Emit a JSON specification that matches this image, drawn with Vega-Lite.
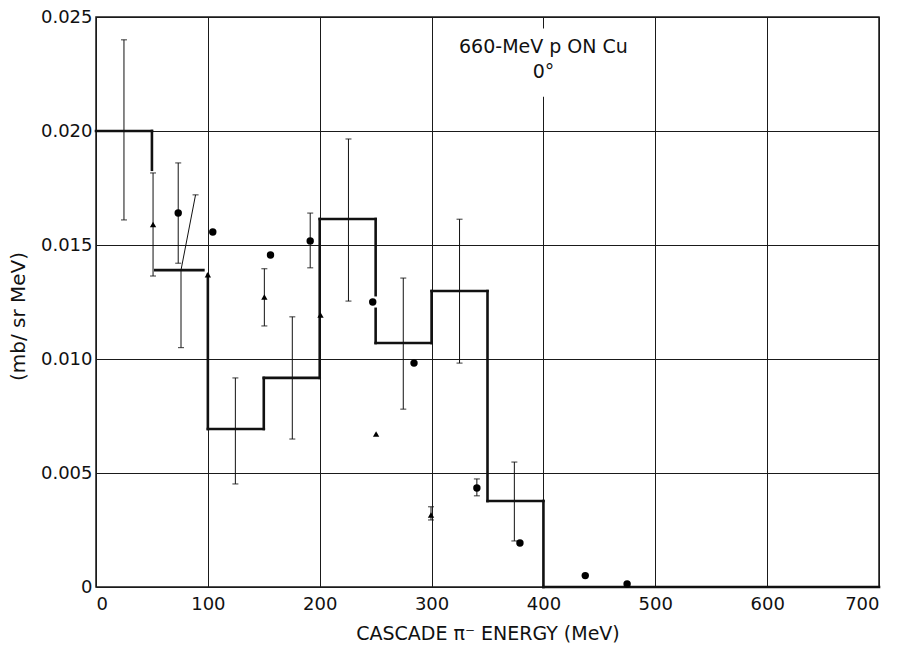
{
  "$schema": "https://vega.github.io/schema/vega-lite/v6.json",
  "width": 783,
  "height": 570,
  "autosize": {"type": "none"},
  "padding": {"left": 96, "top": 17, "right": 18, "bottom": 59},
  "background": "white",
  "config": {
    "view": {"stroke": "#1a1a1a", "strokeWidth": 1.5},
    "font": "DejaVu Sans",
    "axis": {
      "grid": true, "gridColor": "#1a1a1a", "gridWidth": 1, "gridOpacity": 1,
      "domain": false, "ticks": false,
      "labelColor": "#111", "titleColor": "#111",
      "labelFont": "DejaVu Sans", "titleFont": "DejaVu Sans",
      "titleFontWeight": "normal"
    }
  },
  "datasets": {
    "hist": [
      {"x": 0, "x2": 50, "y": 0.020, "y2": 0.020},
      {"x": 50, "x2": 50, "y": 0.020, "y2": 0.0183},
      {"x": 53, "x2": 96, "y": 0.0139, "y2": 0.0139},
      {"x": 100, "x2": 100, "y": 0.0137, "y2": 0.00693},
      {"x": 100, "x2": 150, "y": 0.00693, "y2": 0.00693},
      {"x": 150, "x2": 150, "y": 0.00693, "y2": 0.00917},
      {"x": 150, "x2": 200, "y": 0.00917, "y2": 0.00917},
      {"x": 200, "x2": 200, "y": 0.00917, "y2": 0.01614},
      {"x": 200, "x2": 250, "y": 0.01614, "y2": 0.01614},
      {"x": 250, "x2": 250, "y": 0.01614, "y2": 0.0128},
      {"x": 250, "x2": 250, "y": 0.0122, "y2": 0.0107},
      {"x": 250, "x2": 300, "y": 0.0107, "y2": 0.0107},
      {"x": 300, "x2": 300, "y": 0.0107, "y2": 0.01298},
      {"x": 300, "x2": 350, "y": 0.01298, "y2": 0.01298},
      {"x": 350, "x2": 350, "y": 0.01298, "y2": 0.00377},
      {"x": 350, "x2": 400, "y": 0.00377, "y2": 0.00377},
      {"x": 400, "x2": 400, "y": 0.00377, "y2": 0},
      {"x": 400, "x2": 700, "y": 0, "y2": 0}
    ],
    "bars": [
      {"x": 25, "x2": 25, "y": 0.0161, "y2": 0.0240},
      {"x": 51, "x2": 51, "y": 0.01364, "y2": 0.01816},
      {"x": 73.5, "x2": 73.5, "y": 0.0142, "y2": 0.0186},
      {"x": 76, "x2": 76, "y": 0.0105, "y2": 0.0139},
      {"x": 76, "x2": 89, "y": 0.0139, "y2": 0.0172},
      {"x": 124.6, "x2": 124.6, "y": 0.00452, "y2": 0.00917},
      {"x": 150.5, "x2": 150.5, "y": 0.01145, "y2": 0.01396},
      {"x": 175.5, "x2": 175.5, "y": 0.00649, "y2": 0.01185},
      {"x": 191.5, "x2": 191.5, "y": 0.0140, "y2": 0.0164},
      {"x": 225.7, "x2": 225.7, "y": 0.01254, "y2": 0.01965},
      {"x": 274.7, "x2": 274.7, "y": 0.0078, "y2": 0.01355},
      {"x": 299.5, "x2": 299.5, "y": 0.00294, "y2": 0.00352},
      {"x": 325, "x2": 325, "y": 0.00982, "y2": 0.01613},
      {"x": 340.5, "x2": 340.5, "y": 0.0040, "y2": 0.00474},
      {"x": 374, "x2": 374, "y": 0.00202, "y2": 0.00548}
    ],
    "caps": [
      {"x": 25, "y": 0.0161}, {"x": 25, "y": 0.0240},
      {"x": 51, "y": 0.01364}, {"x": 51, "y": 0.01816},
      {"x": 73.5, "y": 0.0142}, {"x": 73.5, "y": 0.0186},
      {"x": 76, "y": 0.0105}, {"x": 89, "y": 0.0172},
      {"x": 124.6, "y": 0.00452}, {"x": 124.6, "y": 0.00917},
      {"x": 150.5, "y": 0.01145}, {"x": 150.5, "y": 0.01396},
      {"x": 175.5, "y": 0.00649}, {"x": 175.5, "y": 0.01185},
      {"x": 191.5, "y": 0.0140}, {"x": 191.5, "y": 0.0164},
      {"x": 225.7, "y": 0.01254}, {"x": 225.7, "y": 0.01965},
      {"x": 274.7, "y": 0.0078}, {"x": 274.7, "y": 0.01355},
      {"x": 299.5, "y": 0.00294}, {"x": 299.5, "y": 0.00352},
      {"x": 325, "y": 0.00982}, {"x": 325, "y": 0.01613},
      {"x": 340.5, "y": 0.0040}, {"x": 340.5, "y": 0.00474},
      {"x": 374, "y": 0.00202}, {"x": 374, "y": 0.00548}
    ],
    "points": [
      {"x": 51, "y": 0.0159, "kind": "triangle"},
      {"x": 73.5, "y": 0.0164, "kind": "circle"},
      {"x": 100, "y": 0.0137, "kind": "triangle"},
      {"x": 104.4, "y": 0.01557, "kind": "circle"},
      {"x": 150.5, "y": 0.01272, "kind": "triangle"},
      {"x": 156, "y": 0.01456, "kind": "circle"},
      {"x": 191.5, "y": 0.01518, "kind": "circle"},
      {"x": 200.7, "y": 0.01193, "kind": "triangle"},
      {"x": 247.4, "y": 0.0125, "kind": "circle"},
      {"x": 250.4, "y": 0.00671, "kind": "triangle"},
      {"x": 284.3, "y": 0.00982, "kind": "circle"},
      {"x": 299.5, "y": 0.00316, "kind": "triangle"},
      {"x": 340.5, "y": 0.00434, "kind": "circle"},
      {"x": 379, "y": 0.00193, "kind": "circle"},
      {"x": 437.4, "y": 0.0005, "kind": "circle"},
      {"x": 474.8, "y": 0.00013, "kind": "circle"}
    ],
    "notes": [
      {"x": 400, "y": 0.02368, "text": "660-MeV p ON Cu"},
      {"x": 400, "y": 0.02259, "text": "0°"}
    ],
    "blank": [
      {"x": 315, "x2": 485, "y": 0.0215, "y2": 0.0245}
    ]
  },
  "encoding": {
    "x": {
      "field": "x", "type": "quantitative",
      "scale": {"domain": [0, 700], "nice": false, "zero": false},
      "axis": {
        "title": "CASCADE π⁻ ENERGY (MeV)",
        "values": [0, 100, 200, 300, 400, 500, 600, 700],
        "labelFontSize": 18, "labelPadding": 8,
        "titleFontSize": 19, "titleBaseline": "middle", "titleY": 46
      }
    },
    "y": {
      "field": "y", "type": "quantitative",
      "scale": {"domain": [0, 0.025], "nice": false, "zero": false},
      "axis": {
        "title": "(mb/  sr  MeV)",
        "values": [0, 0.005, 0.01, 0.015, 0.02, 0.025],
        "labelExpr": "datum.value == 0 ? '0' : format(datum.value, '.3f')",
        "labelFontSize": 18, "labelPadding": 4,
        "titleFontSize": 20, "titleAngle": -90, "titleBaseline": "middle",
        "titleX": -78, "titleY": 299
      }
    }
  },
  "layer": [
    {
      "data": {"name": "blank"},
      "mark": {"type": "rect", "fill": "white", "stroke": null},
      "encoding": {"x2": {"field": "x2"}, "y2": {"field": "y2"}}
    },
    {
      "data": {"name": "hist"},
      "mark": {"type": "rule", "color": "#111", "strokeWidth": 2.6, "strokeCap": "square"},
      "encoding": {"x2": {"field": "x2"}, "y2": {"field": "y2"}}
    },
    {
      "data": {"name": "bars"},
      "mark": {"type": "rule", "color": "#111", "strokeWidth": 1},
      "encoding": {"x2": {"field": "x2"}, "y2": {"field": "y2"}}
    },
    {
      "data": {"name": "caps"},
      "mark": {"type": "tick", "orient": "horizontal", "color": "#111", "size": 6, "thickness": 1.2}
    },
    {
      "data": {"name": "points"},
      "mark": {"type": "point", "filled": true, "color": "#000", "opacity": 1},
      "encoding": {
        "shape": {"field": "kind", "type": "nominal", "scale": {"domain": ["circle", "triangle"], "range": ["circle", "triangle-up"]}, "legend": null},
        "size": {"field": "kind", "type": "nominal", "scale": {"domain": ["circle", "triangle"], "range": [55, 40]}, "legend": null}
      }
    },
    {
      "data": {"name": "notes"},
      "mark": {"type": "text", "fontSize": 19, "font": "DejaVu Sans", "color": "#111", "align": "center", "baseline": "middle"},
      "encoding": {"text": {"field": "text"}}
    }
  ]
}
